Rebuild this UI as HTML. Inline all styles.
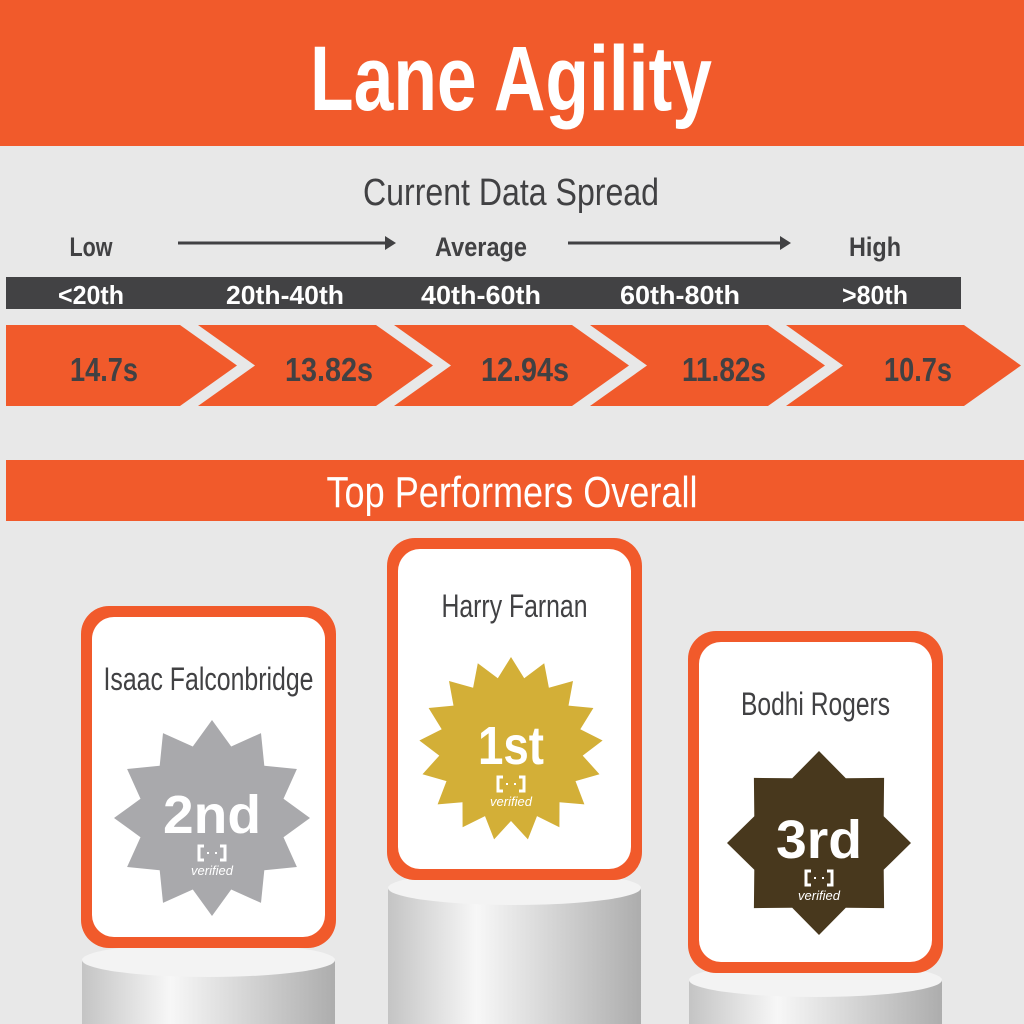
<!DOCTYPE html>
<html><head><meta charset="utf-8"><style>
html,body{margin:0;padding:0;background:#e8e8e8;}
svg{display:block}
</style></head><body>
<svg id="s" width="1024" height="1024" viewBox="0 0 1024 1024" xmlns="http://www.w3.org/2000/svg" font-family="Liberation Sans, sans-serif">
<defs>
<linearGradient id="cyl" x1="0" x2="1" y1="0" y2="0">
<stop offset="0" stop-color="#c4c4c4"/><stop offset="0.35" stop-color="#f7f7f7"/><stop offset="1" stop-color="#adadad"/>
</linearGradient>
</defs>
<rect width="1024" height="1024" fill="#e8e8e8"/>
<rect x="0" y="0" width="1024" height="146" fill="#f15a2b"/>
<text x="511" y="110" font-size="92" font-weight="bold" fill="#fff" text-anchor="middle" textLength="402" lengthAdjust="spacingAndGlyphs">Lane Agility</text>
<text x="511" y="205" font-size="38" fill="#414143" text-anchor="middle" textLength="296" lengthAdjust="spacingAndGlyphs">Current Data Spread</text>
<g font-size="27" font-weight="bold" fill="#414143" text-anchor="middle">
<text x="91" y="256" textLength="43" lengthAdjust="spacingAndGlyphs">Low</text>
<text x="481" y="256" textLength="92" lengthAdjust="spacingAndGlyphs">Average</text>
<text x="875" y="256" textLength="52" lengthAdjust="spacingAndGlyphs">High</text>
</g>
<g stroke="#414143" stroke-width="3"><line x1="178" y1="243" x2="388" y2="243"/><line x1="568" y1="243" x2="783" y2="243"/></g>
<path d="M385 236 L396 243 L385 250Z M780 236 L791 243 L780 250Z" fill="#414143"/>
<rect x="6" y="277" width="955" height="32" fill="#424244"/>
<g font-size="26" font-weight="bold" fill="#fff" text-anchor="middle">
<text x="91" y="304" textLength="66" lengthAdjust="spacingAndGlyphs">&lt;20th</text>
<text x="285" y="304" textLength="118" lengthAdjust="spacingAndGlyphs">20th-40th</text>
<text x="481" y="304" textLength="120" lengthAdjust="spacingAndGlyphs">40th-60th</text>
<text x="680" y="304" textLength="120" lengthAdjust="spacingAndGlyphs">60th-80th</text>
<text x="875" y="304" textLength="66" lengthAdjust="spacingAndGlyphs">&gt;80th</text>
</g>
<g id="chev" fill="#f15a2b"></g>
<g font-size="33" font-weight="bold" fill="#414143" text-anchor="middle">
<text x="104" y="381" textLength="68" lengthAdjust="spacingAndGlyphs">14.7s</text>
<text x="329" y="381" textLength="88" lengthAdjust="spacingAndGlyphs">13.82s</text>
<text x="525" y="381" textLength="88" lengthAdjust="spacingAndGlyphs">12.94s</text>
<text x="724" y="381" textLength="84" lengthAdjust="spacingAndGlyphs">11.82s</text>
<text x="918" y="381" textLength="68" lengthAdjust="spacingAndGlyphs">10.7s</text>
</g>
<rect x="6" y="460" width="1018" height="61" fill="#f15a2b"/>
<text x="512" y="507" font-size="44" fill="#fff" text-anchor="middle" textLength="371" lengthAdjust="spacingAndGlyphs">Top Performers Overall</text>
<g id="pods"></g>
</svg>
<script>
var ns="http://www.w3.org/2000/svg";
function el(p,t,a,txt){var e=document.createElementNS(ns,t);for(var k in a)e.setAttribute(k,a[k]);if(txt)e.textContent=txt;p.appendChild(e);return e;}
var ch=document.getElementById('chev');
for(var i=0;i<5;i++){var L=6+196*i,R=180+196*i,T=R+57,d;
 if(i==0)d="M"+L+" 325 L"+R+" 325 L"+T+" 365.5 L"+R+" 406 L"+L+" 406Z";
 else d="M"+(L-4)+" 325 L"+R+" 325 L"+T+" 365.5 L"+R+" 406 L"+(L-4)+" 406 L"+(L+53)+" 365.5Z";
 el(ch,'path',{d:d});}
function star(cx,cy,n,ro,ri,rot){var p=[];for(var k=0;k<2*n;k++){var r=k%2?ri:ro,a=rot+Math.PI*k/n;p.push((cx+r*Math.sin(a)).toFixed(1)+","+(cy-r*Math.cos(a)).toFixed(1));}return p.join(" ");}
var P=document.getElementById('pods');
var data=[
 {x:81,y:606,cy:960,name:"Isaac Falconbridge",nl:210,ny:690,sx:212,sy:818,n:12,ro:98,ri:74,rot:0,col:"#a9a9ac",rank:"2nd",rw:98},
 {x:387,y:538,cy:888,name:"Harry Farnan",nl:146,ny:617,sx:511,sy:749,n:17,ro:92,ri:72,rot:0,col:"#d3af37",rank:"1st",rw:66},
 {x:688,y:631,cy:980,name:"Bodhi Rogers",nl:149,ny:715,sx:819,sy:843,n:8,ro:92,ri:70,rot:0,col:"#48381d",rank:"3rd",rw:86}];
data.forEach(function(d){
 var w=255,cx=d.x+w/2;
 el(P,'rect',{x:d.x+1,y:d.cy,width:w-2,height:1024-d.cy,fill:"url(#cyl)"});
 el(P,'ellipse',{cx:cx,cy:d.cy,rx:w/2-1,ry:17,fill:"#f3f3f3"});
 el(P,'rect',{x:d.x,y:d.y,width:w,height:342,rx:28,fill:"#f15a2b"});
 el(P,'rect',{x:d.x+11,y:d.y+11,width:w-22,height:320,rx:22,fill:"#fff"});
 el(P,'text',{x:cx,y:d.ny,"font-size":32,fill:"#414143","text-anchor":"middle",textLength:d.nl,lengthAdjust:"spacingAndGlyphs"},d.name);
 el(P,'polygon',{points:star(d.sx,d.sy,d.n,d.ro,d.ri,d.rot),fill:d.col});
 el(P,'text',{x:d.sx,y:d.sy+15,"font-size":54,"font-weight":"bold",fill:"#fff","text-anchor":"middle",textLength:d.rw,lengthAdjust:"spacingAndGlyphs"},d.rank);
 var iy=d.sy+28;
 el(P,'path',{d:"M"+(d.sx-8)+" "+iy+" h-5 v14 h5 M"+(d.sx+8)+" "+iy+" h5 v14 h-5",stroke:"#fff","stroke-width":3,fill:"none"});
 el(P,'rect',{x:d.sx-5,y:iy+6,width:2,height:2,fill:"#fff"});
 el(P,'rect',{x:d.sx+3,y:iy+6,width:2,height:2,fill:"#fff"});
 el(P,'text',{x:d.sx,y:iy+29,"font-size":13,"font-style":"italic",fill:"#fff","text-anchor":"middle"},"verified");
});
</script>
</body></html>
